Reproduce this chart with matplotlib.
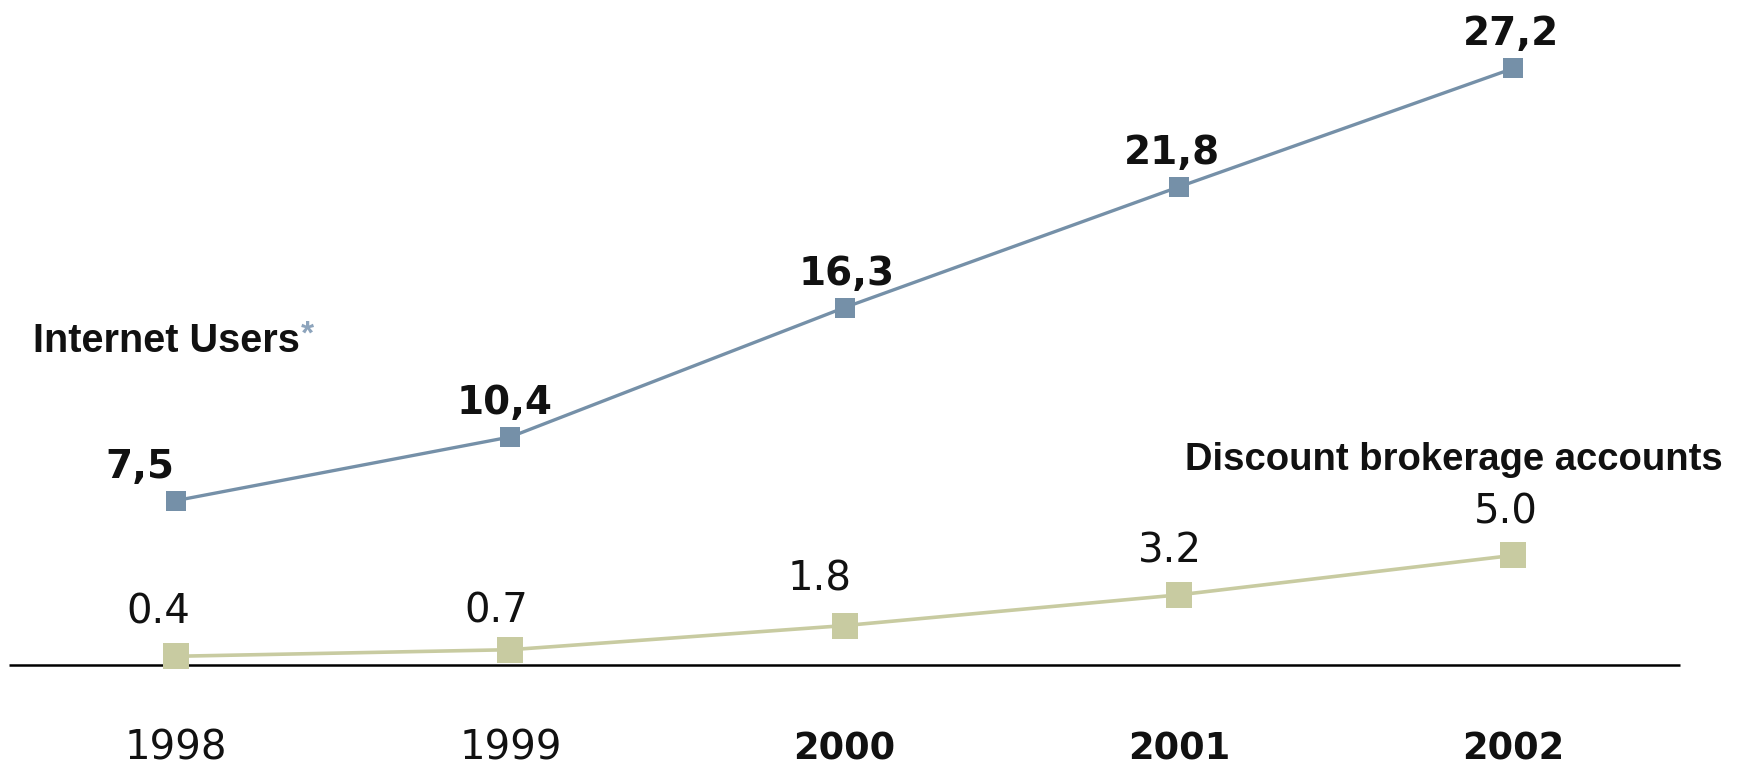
import matplotlib
matplotlib.use("Agg")
import matplotlib.pyplot as plt

# Data
years = ["1998", "1999", "2000", "2001", "2002"]
internet_users = [7.5, 10.4, 16.3, 21.8, 27.2]
brokerage_accounts = [0.4, 0.7, 1.8, 3.2, 5.0]
internet_labels = ["7,5", "10,4", "16,3", "21,8", "27,2"]
brokerage_labels = ["0.4", "0.7", "1.8", "3.2", "5.0"]

BLUE = "#7590A8"
SAGE = "#C8CBA1"
STAR = "#8DA4BC"

fig = plt.figure(figsize=(17.37, 7.71), dpi=100)
ax = fig.add_axes([0, 0, 1, 1])
ax.set_axis_off()
ax.set_xlim(-0.527, 4.67)
ax.set_ylim(-4.83, 30.32)

x = list(range(len(years)))

# baseline
ax.hlines(0, -0.5, 4.5, color="black", linewidth=1.8, zorder=1)

# series
ax.plot(x, brokerage_accounts, color=SAGE, lw=2.6, marker="s", ms=19.4,
        mew=0, zorder=2, solid_capstyle="butt")
ax.plot(x, internet_users, color=BLUE, lw=2.4, marker="s", ms=14.8,
        mew=0, zorder=3, solid_capstyle="butt")

# value labels (pixel offsets from each marker)
inet_dx = [-36, -6, 2, -7, -2]
for xi, v, lab, dx in zip(x, internet_users, internet_labels, inet_dx):
    ax.annotate(lab, (xi, v), xytext=(dx, 23), textcoords="offset pixels",
                ha="center", va="baseline", fontsize=28, fontweight="bold",
                family="DejaVu Sans", color="#111111")

brok_dx = [-18, -14, -25, -9, -7]
brok_dy = [33, 27, 35, 32, 32]
for xi, v, lab, dx, dy in zip(x, brokerage_accounts, brokerage_labels, brok_dx, brok_dy):
    ax.annotate(lab, (xi, v), xytext=(dx, dy), textcoords="offset pixels",
                ha="center", va="baseline", fontsize=29,
                family="DejaVu Sans", color="#111111")

# year labels along the bottom
for xi, yr in zip(x, years):
    if yr in ("1998", "1999"):
        weight, size = "normal", 29
    else:
        weight, size = "bold", 26.5
    ax.annotate(yr, (xi, 11), xycoords=("data", "figure pixels"),
                ha="center", va="baseline", fontsize=size, fontweight=weight,
                family="DejaVu Sans", color="#111111")

# series names
W, H = 1737, 771
t = fig.text(33 / W, (H - 352) / H, "Internet Users", ha="left", va="baseline",
             fontsize=28.5, fontweight="bold", family="Liberation Sans",
             color="#111111")
fig.canvas.draw()
bb = t.get_window_extent(renderer=fig.canvas.get_renderer())
fig.text((bb.x1 + 1) / W, (H - 344) / H, "*", ha="left", va="baseline",
         fontsize=24, fontweight="bold", family="Liberation Sans", color=STAR)

fig.text(1185 / W, (H - 470) / H, "Discount brokerage accounts", ha="left",
         va="baseline", fontsize=27.5, fontweight="bold",
         family="Liberation Sans", color="#111111")

fig.savefig("out.png", dpi=100, facecolor="white")
